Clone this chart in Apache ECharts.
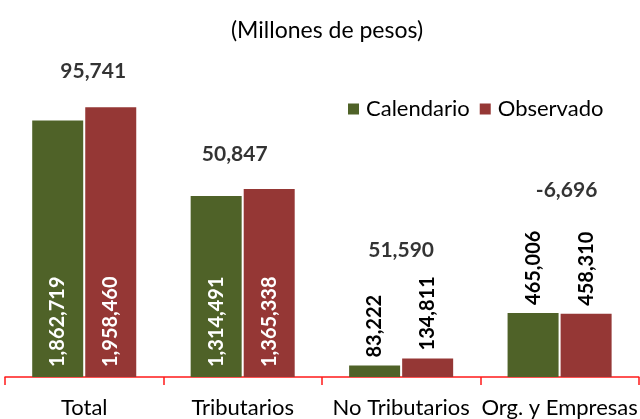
<!DOCTYPE html>
<html>
<head>
<meta charset="utf-8">
<script src="https://cdn.jsdelivr.net/npm/echarts@6/dist/echarts.min.js"></script>
<style>
html,body{margin:0;padding:0;background:#fff;}
#chart{width:640px;height:419px;}
</style>
</head>
<body>
<div id="chart"></div>
<script>
const categories = ['Total', 'Tributarios', 'No Tributarios', 'Org. y Empresas'];
const calendario = [1862719, 1314491, 83222, 465006];
const observado = [1958460, 1365338, 134811, 458310];
const diferencias = [95741, 50847, 51590, -6696];
const subtitleText = '(Millones de pesos)';
const seriesNames = ['Calendario', 'Observado'];

const FONT = 'Lato';
const fmt = v => v.toLocaleString('en-US');

const insideLabel = {
  show: true, position: 'insideBottom', distance: 10, rotate: 90,
  align: 'left', verticalAlign: 'middle',
  color: '#ffffff', fontFamily: FONT, fontWeight: 'bold', fontSize: 20,
  formatter: p => fmt(p.value)
};
const topLabel = {
  show: true, position: 'top', distance: 8, rotate: 90,
  align: 'left', verticalAlign: 'middle',
  color: '#000000', fontFamily: FONT, fontWeight: 'bold', fontSize: 20,
  formatter: p => fmt(p.value)
};
const labelFor = i => (i < 2 ? insideLabel : topLabel);

const diffOffsets = [[9, -36], [-8, -35], [0, -108], [7, -123]];

const chart = echarts.init(document.getElementById('chart'), null, {renderer: 'canvas'});
chart.setOption({
  animation: false,
  backgroundColor: '#ffffff',
  graphic: [{
    type: 'text', x: 327, y: 31, silent: true,
    style: {
      text: subtitleText, align: 'center', verticalAlign: 'middle',
      font: 'normal 23px ' + FONT, fill: '#000'
    }
  }],
  legend: {
    data: seriesNames,
    left: 343, top: 93,
    icon: 'rect', itemWidth: 11, itemHeight: 11, itemGap: 10,
    textStyle: {fontFamily: FONT, fontSize: 22, color: '#000', padding: [0, 0, 0, 2]}
  },
  grid: {left: 5, right: -5, top: 32.6, bottom: 40.5, containLabel: false},
  xAxis: {
    type: 'category', data: categories,
    axisLine: {show: true, lineStyle: {color: '#ff1a1a', width: 1.5}},
    axisTick: {show: true, length: 8, lineStyle: {color: '#ff1a1a', width: 1.5}},
    axisLabel: {interval: 0, margin: 20, fontFamily: FONT, fontSize: 22, color: '#000'}
  },
  yAxis: {type: 'value', min: 0, max: 2500000, show: false, splitLine: {show: false}},
  series: [
    {
      name: seriesNames[0], type: 'bar', barWidth: 51, barGap: '4%',
      itemStyle: {color: '#4F6228'},
      data: calendario.map((v, i) => ({value: v, label: labelFor(i)}))
    },
    {
      name: seriesNames[1], type: 'bar', barWidth: 51, barGap: '4%',
      itemStyle: {color: '#953735'},
      data: observado.map((v, i) => ({value: v, label: labelFor(i)}))
    },
    {
      name: 'diff', type: 'scatter', symbolSize: 1,
      itemStyle: {color: 'rgba(0,0,0,0)'},
      silent: true,
      data: diferencias.map((d, i) => ({
        value: [i, Math.max(calendario[i], observado[i])],
        label: {
          show: true, position: 'inside', offset: diffOffsets[i],
          formatter: () => fmt(d),
          color: '#000', fontFamily: FONT, fontWeight: 'bold', fontSize: 21
        }
      }))
    }
  ]
});
</script>
</body>
</html>
